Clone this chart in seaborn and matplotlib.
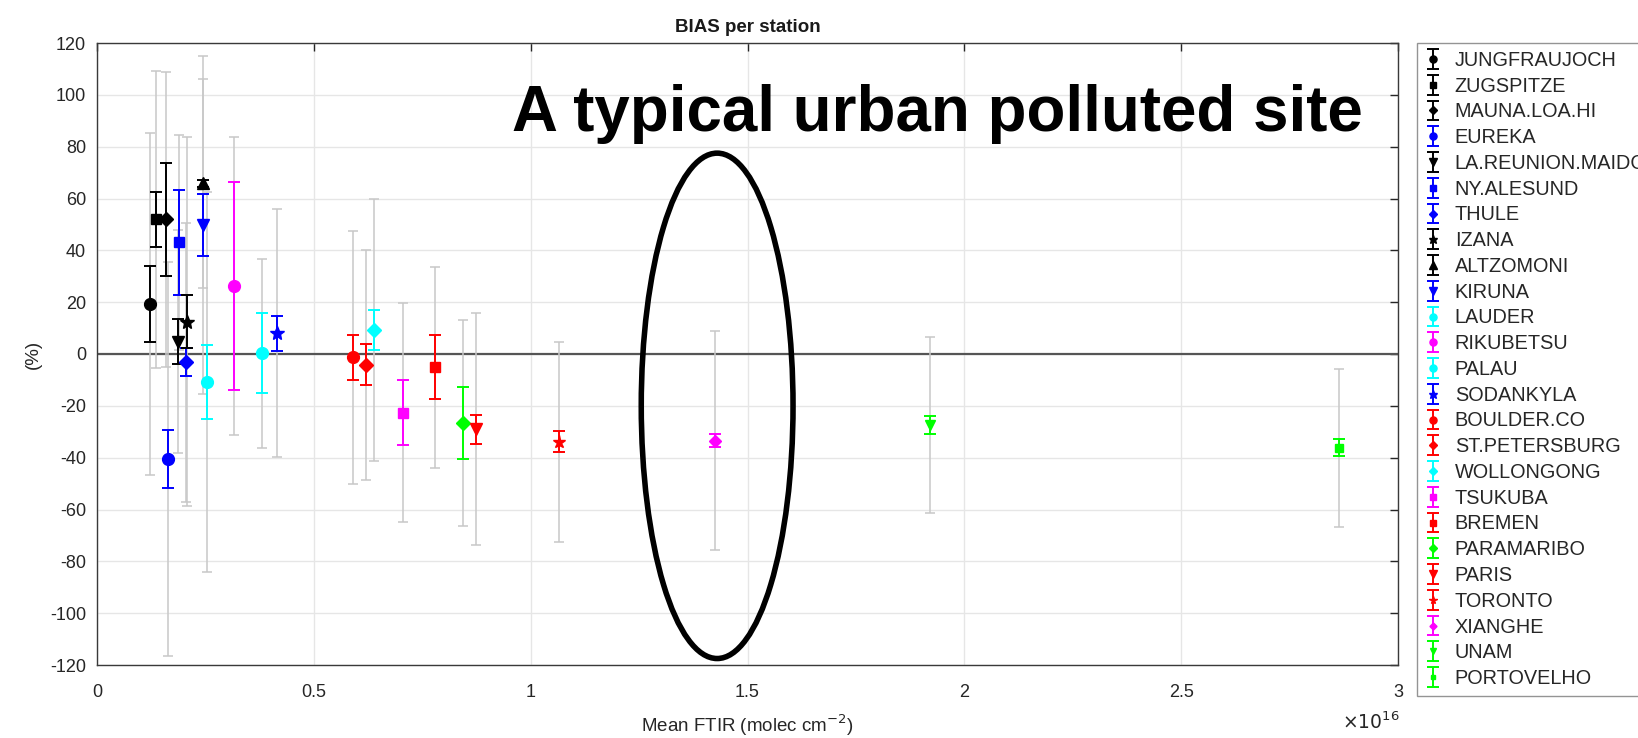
import matplotlib
matplotlib.use("Agg")
import matplotlib.pyplot as plt
from matplotlib.patches import Ellipse
import seaborn as sns
import pandas as pd

stations = ["JUNGFRAUJOCH", "ZUGSPITZE", "MAUNA.LOA.HI", "EUREKA", "LA.REUNION.MAIDO",
            "NY.ALESUND", "THULE", "IZANA", "ALTZOMONI", "KIRUNA", "LAUDER", "RIKUBETSU",
            "PALAU", "SODANKYLA", "BOULDER.CO", "ST.PETERSBURG", "WOLLONGONG", "TSUKUBA",
            "BREMEN", "PARAMARIBO", "PARIS", "TORONTO", "XIANGHE", "UNAM", "PORTOVELHO"]
mean_ftir = [0.123, 0.135, 0.159, 0.164, 0.186, 0.190, 0.205, 0.207, 0.245, 0.245, 0.253, 0.316,
             0.380, 0.416, 0.591, 0.621, 0.638, 0.706, 0.779, 0.843, 0.873, 1.065, 1.426, 1.920, 2.863]
bias = [19.3, 52.0, 52.0, -40.5, 4.8, 43.1, -3.2, 12.5, 65.8, 49.8, -10.7, 26.2,
        0.3, 8.0, -1.3, -4.2, 9.3, -22.6, -5.1, -26.7, -29.0, -33.8, -33.4, -27.4, -36.1]
err_inner = [14.5, 10.6, 21.8, 11.2, 8.7, 20.2, 5.4, 10.1, 1.5, 12.1, 14.2, 40.2,
             15.4, 6.8, 8.8, 7.9, 7.8, 12.4, 12.4, 13.8, 5.6, 4.2, 2.5, 3.6, 3.4]
err_outer = [66.0, 57.3, 57.0, 76.0, 43.0, 41.4, 53.8, 71.1, 40.5, 65.3, 73.3, 57.4,
             36.4, 47.8, 48.7, 44.4, 50.6, 42.2, 38.7, 39.7, 44.8, 38.6, 42.2, 33.8, 30.5]
colors = ["k", "k", "k", "b", "k", "b", "b", "k", "k", "b", "c", "m",
          "c", "b", "r", "r", "c", "m", "r", "g", "r", "r", "m", "g", "g"]
markers = ["o", "s", "D", "o", "v", "s", "D", "*", "^", "v", "o", "o",
           "o", "*", "o", "D", "D", "s", "s", "D", "v", "*", "D", "v", "s"]
msizes = [8.5, 7, 7, 8.5, 8.5, 7, 7, 10.5, 8.5, 8.5, 8.5, 8.5,
          8.5, 10.5, 8.5, 7, 7.5, 6.5, 6.5, 7, 8.5, 9.5, 6, 7.5, 6]

cmap = {"k": "#000000", "b": "#0000FF", "c": "#00FFFF", "m": "#FF00FF", "r": "#FF0000", "g": "#00FF00"}

df = pd.DataFrame({"station": stations, "x": mean_ftir, "bias": bias,
                   "e1": err_inner, "e2": err_outer, "c": colors, "m": markers, "ms": msizes})

sns.set_theme(style="whitegrid")
plt.rcParams["font.family"] = ["Liberation Sans", "DejaVu Sans"]
plt.rcParams["axes.unicode_minus"] = False

fig = plt.figure(figsize=(16.38, 7.38), dpi=100)
ax = fig.add_axes([97/1638, 1-665/738, (1398-97)/1638, (665-43)/738])
ax.set_facecolor("white")

ax.axhline(0, color="#555555", lw=1.6, zorder=1)

for _, r in df.iterrows():
    ax.errorbar(r.x, r.bias, yerr=r.e2, fmt="none", ecolor="#c8c8c8", elinewidth=1.1,
                capsize=3.5, capthick=1.1, zorder=2)
for _, r in df.iterrows():
    col = cmap[r.c]
    ax.errorbar(r.x, r.bias, yerr=r.e1, fmt=r.m, color=col, ecolor=col, elinewidth=1.4,
                capsize=4, capthick=1.4, markersize=r.ms, markeredgecolor=col,
                markerfacecolor=col, label=r.station, zorder=3)

ax.set_xlim(0, 3)
ax.set_ylim(-120, 120)
ax.set_xticks([0, 0.5, 1, 1.5, 2, 2.5, 3])
ax.set_xticklabels(["0", "0.5", "1", "1.5", "2", "2.5", "3"])
ax.set_yticks(range(-120, 121, 20))
ax.grid(True, color="#e6e6e6", lw=1.0)
ax.tick_params(direction="in", length=6, width=1, colors="#262626", labelsize=13,
               top=True, right=True, labelcolor="#262626")
ax.tick_params(axis="x", pad=14)
ax.tick_params(axis="y", pad=8)
for s in ax.spines.values():
    s.set_color("#3a3a3a")
    s.set_linewidth(1.0)

ax.set_title("BIAS per station", fontsize=13.5, fontweight="bold", color="#1a1a1a", pad=8)
ax.set_xlabel("Mean FTIR (molec cm$^{-2}$)", fontsize=13.5, color="#262626", labelpad=8)
ax.set_ylabel("(%)", fontsize=13.5, color="#262626", labelpad=6)
fig.text(1400/1638, 1-722/738, r"$\times10^{16}$", fontsize=13.5, ha="right", va="center",
         color="#262626")

ell = Ellipse((1.43, -20), width=0.35, height=195, fill=False, edgecolor="black", lw=4,
              zorder=5)
ax.add_patch(ell)

fig.text(512/1638, 1-131/738, "A typical urban polluted site", fontsize=45.8,
         fontweight="bold", color="black", ha="left", va="baseline")

leg = fig.legend(loc="upper left", bbox_to_anchor=(1417/1638, 1-43/738), borderaxespad=0,
                 fontsize=14.3, frameon=True, fancybox=False, edgecolor="#7a7a7a",
                 handlelength=0.8, handletextpad=0.7, labelspacing=0.34, markerscale=0.6,
                 borderpad=0.4)
leg.get_frame().set_linewidth(1.0)

fig.savefig("out.png", dpi=100)
